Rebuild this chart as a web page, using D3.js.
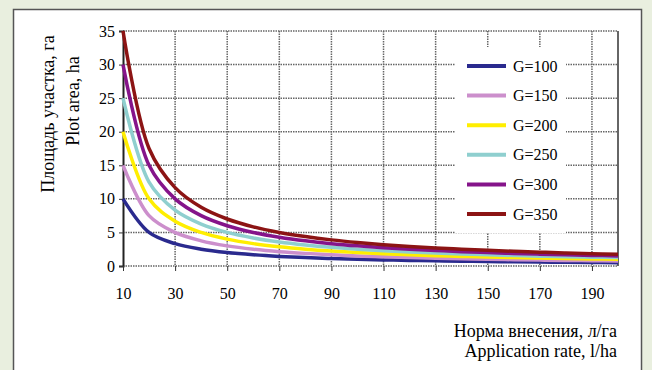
<!DOCTYPE html>
<meta charset="utf-8">
<script src="https://d3js.org/d3.v7.min.js"></script>
<style>
  body { margin: 0; background: #e9efdf; }
</style>
<div id="my_dataviz"></div>
<script>

  // application rate, l/ha
  var rates = [10, 20, 30, 40, 50, 60, 70, 80, 90, 100, 110, 120, 130, 140, 150, 160, 170, 180, 190, 200];

  // plot area, ha, one array per G
  var g100 = [10, 5, 3.33, 2.5, 2, 1.67, 1.43, 1.25, 1.11, 1, 0.91, 0.83, 0.77, 0.71, 0.67, 0.63, 0.59, 0.56, 0.53, 0.5];
  var g150 = [15, 7.5, 5, 3.75, 3, 2.5, 2.14, 1.88, 1.67, 1.5, 1.36, 1.25, 1.15, 1.07, 1, 0.94, 0.88, 0.83, 0.79, 0.75];
  var g200 = [20, 10, 6.67, 5, 4, 3.33, 2.86, 2.5, 2.22, 2, 1.82, 1.67, 1.54, 1.43, 1.33, 1.25, 1.18, 1.11, 1.05, 1];
  var g250 = [25, 12.5, 8.33, 6.25, 5, 4.17, 3.57, 3.13, 2.78, 2.5, 2.27, 2.08, 1.92, 1.79, 1.67, 1.56, 1.47, 1.39, 1.32, 1.25];
  var g300 = [30, 15, 10, 7.5, 6, 5, 4.29, 3.75, 3.33, 3, 2.73, 2.5, 2.31, 2.14, 2, 1.88, 1.76, 1.67, 1.58, 1.5];
  var g350 = [35, 17.5, 11.67, 8.75, 7, 5.83, 5, 4.38, 3.89, 3.5, 3.18, 2.92, 2.69, 2.5, 2.33, 2.19, 2.06, 1.94, 1.84, 1.75];

  var seriesNames = ["G=100", "G=150", "G=200", "G=250", "G=300", "G=350"];
  var seriesValues = [g100, g150, g200, g250, g300, g350];
  var seriesColors = ["#2a2a8e", "#cc8fcc", "#ffee00", "#8fcfcf", "#85148a", "#8c1414"];

  var xTicks = [10, 30, 50, 70, 90, 110, 130, 150, 170, 190];
  var yTicks = [0, 5, 10, 15, 20, 25, 30, 35];

  var W = 652, H = 370;
  var plot = { left: 123, right: 618, top: 31, bottom: 266 };
  var serif = "'Liberation Serif', 'Times New Roman', serif";

  var svg = d3.select("#my_dataviz")
    .append("svg")
    .attr("width", W)
    .attr("height", H)
    .attr("font-family", serif);

  // white panel
  svg.append("rect")
    .attr("x", 13.5).attr("y", 9.5)
    .attr("width", 628).attr("height", 380)
    .attr("fill", "#fff")
    .attr("stroke", "#555")
    .attr("stroke-width", 1.5);

  var x = d3.scaleLinear().domain([10, 200]).range([plot.left, plot.right]);
  var y = d3.scaleLinear().domain([0, 35]).range([plot.bottom, plot.top]);

  // grid
  svg.append("g")
    .selectAll("line")
    .data(yTicks)
    .join("line")
    .attr("x1", plot.left).attr("x2", plot.right)
    .attr("y1", function (d) { return y(d); })
    .attr("y2", function (d) { return y(d); })
    .attr("stroke", "#666")
    .attr("stroke-width", 1.5)
    .attr("stroke-dasharray", "1.5,1");

  svg.append("g")
    .selectAll("line")
    .data(xTicks.slice(1))
    .join("line")
    .attr("x1", function (d) { return x(d); })
    .attr("x2", function (d) { return x(d); })
    .attr("y1", plot.top).attr("y2", plot.bottom)
    .attr("stroke", "#666")
    .attr("stroke-width", 1.5)
    .attr("stroke-dasharray", "1.5,1");

  // legend box hides the grid behind it
  svg.append("rect")
    .attr("x", 455).attr("y", 47)
    .attr("width", 111).attr("height", 186)
    .attr("fill", "#fff");

  // right border of plot
  svg.append("line")
    .attr("x1", plot.right).attr("x2", plot.right)
    .attr("y1", plot.top).attr("y2", plot.bottom)
    .attr("stroke", "#333").attr("stroke-width", 1.5);

  // Y axis
  var yAxis = svg.append("g")
    .attr("transform", "translate(" + plot.left + ",0)")
    .call(d3.axisLeft(y).tickValues(yTicks).tickSize(4).tickPadding(4));
  yAxis.attr("font-family", serif).attr("font-size", 16);
  yAxis.select(".domain").attr("stroke", "#222").attr("stroke-width", 2);
  yAxis.selectAll(".tick line").attr("stroke", "#333");
  yAxis.selectAll("text").attr("fill", "#000");

  // X axis
  var xAxis = svg.append("g")
    .attr("transform", "translate(0," + plot.bottom + ")")
    .call(d3.axisBottom(x).tickValues(xTicks).tickSize(5).tickPadding(17));
  xAxis.attr("font-family", serif).attr("font-size", 16);
  xAxis.select(".domain").remove();
  xAxis.selectAll(".tick line").attr("stroke", "#333");
  xAxis.selectAll("text").attr("fill", "#000");

  // lines
  var line = d3.line()
    .x(function (d, i) { return x(rates[i]); })
    .y(function (d) { return y(d); })
    .curve(d3.curveCatmullRom.alpha(0.5));

  svg.append("g")
    .selectAll("path")
    .data(seriesValues)
    .join("path")
    .attr("fill", "none")
    .attr("stroke", function (d, i) { return seriesColors[i]; })
    .attr("stroke-width", 3.5)
    .attr("d", line);

  // legend
  var legend = svg.append("g")
    .selectAll("g")
    .data(seriesNames)
    .join("g")
    .attr("transform", function (d, i) { return "translate(467," + (66 + i * 29.6) + ")"; });

  legend.append("line")
    .attr("x1", 0).attr("x2", 39)
    .attr("stroke", function (d, i) { return seriesColors[i]; })
    .attr("stroke-width", 4);

  legend.append("text")
    .attr("x", 46).attr("dy", "0.35em")
    .attr("font-size", 16)
    .attr("fill", "#000")
    .text(function (d) { return d; });

  // axis titles
  svg.append("text")
    .attr("transform", "translate(54,114) rotate(-90)")
    .attr("text-anchor", "middle")
    .attr("font-size", 18)
    .attr("fill", "#000")
    .text("Площадь участка, га");

  svg.append("text")
    .attr("transform", "translate(79,101) rotate(-90)")
    .attr("text-anchor", "middle")
    .attr("font-size", 18)
    .attr("fill", "#000")
    .text("Plot area, ha");

  svg.append("text")
    .attr("x", 617).attr("y", 337)
    .attr("text-anchor", "end")
    .attr("font-size", 18)
    .attr("fill", "#000")
    .text("Норма внесения, л/га");

  svg.append("text")
    .attr("x", 617).attr("y", 357)
    .attr("text-anchor", "end")
    .attr("font-size", 18)
    .attr("fill", "#000")
    .text("Application rate, l/ha");

</script>
